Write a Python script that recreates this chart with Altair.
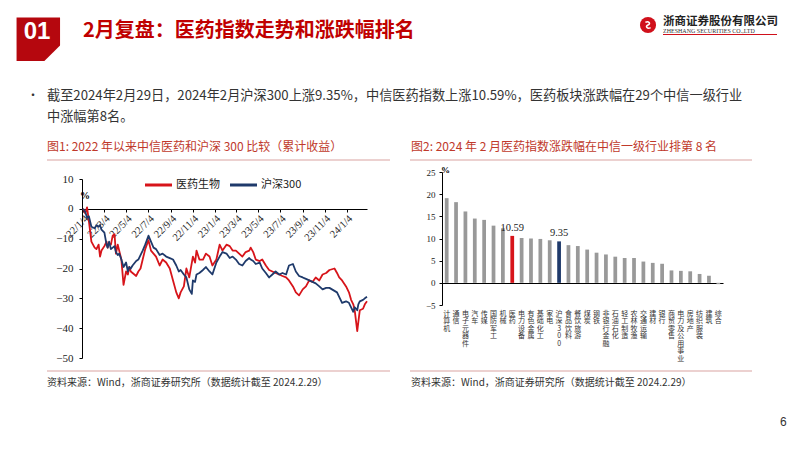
import altair as alt
import pandas as pd

# ---------------- data ----------------
red_dates = ["2022-01-04","2022-01-10","2022-01-15","2022-01-20","2022-01-27","2022-02-05","2022-02-10","2022-02-16",
             "2022-02-20","2022-02-24","2022-03-04","2022-03-10","2022-03-13","2022-03-17","2022-03-22","2022-03-27",
             "2022-04-01","2022-04-05","2022-04-10","2022-04-14","2022-04-20","2022-04-26","2022-05-03","2022-05-08",
             "2022-05-12","2022-05-16","2022-05-21","2022-05-31","2022-06-06","2022-06-12","2022-06-18","2022-06-25",
             "2022-07-04","2022-07-11","2022-07-18","2022-07-25","2022-08-04","2022-08-12","2022-08-22","2022-09-01",
             "2022-09-10","2022-09-19","2022-09-26","2022-10-01","2022-10-10","2022-10-17","2022-10-25","2022-11-04",
             "2022-11-10","2022-11-14","2022-11-22","2022-12-02","2022-12-10","2022-12-20","2022-12-28","2023-01-08",
             "2023-01-17","2023-01-25","2023-02-05","2023-02-14","2023-02-22","2023-03-03","2023-03-12","2023-03-21",
             "2023-03-30","2023-04-09","2023-04-13","2023-04-20","2023-04-27","2023-05-08","2023-05-15","2023-05-25",
             "2023-06-03","2023-06-12","2023-06-21","2023-07-01","2023-07-10","2023-07-20","2023-07-28","2023-08-08",
             "2023-08-16","2023-08-25","2023-09-04","2023-09-13","2023-09-22","2023-10-01","2023-10-10","2023-10-20",
             "2023-10-29","2023-11-08","2023-11-17","2023-12-01","2023-12-08","2023-12-14","2023-12-22","2024-01-02",
             "2024-01-10","2024-01-16","2024-01-22","2024-01-26","2024-02-02","2024-02-05","2024-02-09","2024-02-18",
             "2024-02-23","2024-02-29"]
red_vals = [0, -1.5, 0.5, -4, -11, -13, -13.5, -12,
            -16, -14, -12.5, -11, -13, -11.5, -12, -9,
            -8.5, -15, -12, -14, -17, -25.5, -21, -22,
            -19.5, -21, -21.5, -22.5, -21, -20, -17, -13.5,
            -10.5, -14, -15, -16, -19, -17, -18, -20,
            -24, -28, -30, -28, -26, -20, -23, -16,
            -18, -14, -17, -17, -15, -16, -19, -17,
            -12, -14, -12, -12.5, -14, -14, -15, -16,
            -14.5, -14, -13, -14.5, -17, -17.5, -17, -19,
            -20.5, -21, -21.5, -22, -22.5, -23, -24, -26,
            -28, -29, -27, -26, -24, -24.5, -23, -24,
            -22, -21.5, -20.5, -20, -21.5, -23, -24, -26,
            -28, -30.5, -32, -34, -41, -38, -34, -33.5,
            -32, -31]

blue_dates = ["2022-01-04","2022-01-10","2022-01-15","2022-01-20","2022-01-27","2022-02-05","2022-02-10","2022-02-16",
              "2022-02-20","2022-02-24","2022-03-04","2022-03-10","2022-03-13","2022-03-17","2022-03-22","2022-03-27",
              "2022-04-01","2022-04-05","2022-04-10","2022-04-14","2022-04-20","2022-04-26","2022-05-03","2022-05-08",
              "2022-05-12","2022-05-16","2022-05-21","2022-05-31","2022-06-06","2022-06-12","2022-06-18","2022-06-25",
              "2022-07-04","2022-07-11","2022-07-18","2022-07-25","2022-08-04","2022-08-12","2022-08-22","2022-09-01",
              "2022-09-10","2022-09-19","2022-09-26","2022-10-01","2022-10-10","2022-10-17","2022-10-25","2022-11-01",
              "2022-11-04","2022-11-10","2022-11-14","2022-11-22","2022-12-02","2022-12-10","2022-12-20","2022-12-28",
              "2023-01-08","2023-01-17","2023-01-25","2023-02-05","2023-02-14","2023-02-22","2023-03-03","2023-03-12",
              "2023-03-21","2023-03-30","2023-04-09","2023-04-13","2023-04-20","2023-04-27","2023-05-08","2023-05-15",
              "2023-05-25","2023-06-03","2023-06-12","2023-06-21","2023-07-01","2023-07-10","2023-07-20","2023-07-28",
              "2023-08-08","2023-08-16","2023-08-25","2023-09-04","2023-09-13","2023-09-22","2023-10-01","2023-10-10",
              "2023-10-20","2023-10-29","2023-11-08","2023-11-17","2023-12-01","2023-12-08","2023-12-14","2023-12-22",
              "2024-01-02","2024-01-10","2024-01-16","2024-01-22","2024-01-26","2024-02-02","2024-02-05","2024-02-09",
              "2024-02-18","2024-02-23","2024-02-29"]
blue_vals = [0, -1, -3, -2.5, -6, -6.5, -5.5, -6,
             -5.5, -7, -8, -12, -13, -11, -13.5, -13,
             -12.5, -14.5, -15.5, -15, -17, -19.5, -18, -21,
             -19.5, -20, -19, -17.5, -17, -15.5, -14, -12,
             -9, -11, -13, -13.5, -15.5, -15, -16, -16.5,
             -17, -19, -21, -20.5, -22, -23, -27, -28.5,
             -24, -24.5, -22, -21.5, -20.5, -19.5, -21, -22,
             -18, -16, -14.5, -15, -16.5, -16, -17, -18.5,
             -19, -17.5, -16.5, -17, -17.5, -18.5, -18, -20,
             -21.5, -23, -22, -21, -22, -21.5, -22, -19,
             -18.5, -21, -22.5, -23, -23.5, -24, -24.5, -25,
             -26, -27, -26.5, -26.5, -27.5, -28, -29.5, -31.5,
             -31, -31.5, -33, -34.5, -33, -34, -32, -31,
             -30.5, -30, -29.5]

series_names = ["医药生物", "沪深300"]
tick_months = [(2022, 1), (2022, 3), (2022, 5), (2022, 7), (2022, 9), (2022, 11), (2023, 1),
               (2023, 3), (2023, 5), (2023, 7), (2023, 9), (2023, 11), (2024, 1)]
y1_ticks = [10, 0, -10, -20, -30, -40, -50]

industries = ["计算机", "通信", "电子元器件", "汽车", "传媒", "国防军工", "机械", "医药", "电力设备", "有色金属",
              "基础化工", "家电", "沪深300", "食品饮料", "餐饮旅游", "煤炭", "钢铁", "非银行金融", "石油石化", "轻工制造",
              "农林牧渔", "交通运输", "建材", "银行", "商贸零售", "电力及公用事业", "房地产", "纺织服装", "建筑", "综合"]
changes = [19.1, 18.2, 16.1, 14.5, 14.2, 12.9, 12.3, 10.59, 10.1, 10.0,
           9.9, 9.6, 9.35, 8.5, 8.3, 7.5, 6.8, 6.4, 5.9, 5.6,
           5.6, 4.8, 4.5, 4.3, 2.8, 2.7, 2.6, 2.0, 1.6, -0.3]
y2_ticks = [25, 20, 15, 10, 5, 0, -5]

# ---------------- style ----------------
W, H = 786, 435
CJK = "Noto Sans CJK SC"
SERIF = "Liberation Serif"
RED = "#D7141A"
BLUE = "#1F3A6B"
BOXRED = "#B5070E"
TITLERED = "#C00000"
CAPRED = "#C0392B"
PINK = "#D9A3A1"
GRAY = "#999999"

one = pd.DataFrame({"_": [0]})


def txt(s, x, y, size, color="#000", font=CJK, weight="normal", align="left", baseline="middle"):
    return alt.Chart(one).mark_text(text=s, font=font, fontSize=size, fontWeight=weight, color=color,
                                    align=align, baseline=baseline).encode(x=alt.value(x), y=alt.value(y))


def hline(x1, x2, y, color, w=1.0):
    return alt.Chart(one).mark_rule(color=color, strokeWidth=w).encode(
        x=alt.value(x1), x2=alt.value(x2), y=alt.value(y))


# ---------------- header / decorations ----------------
box = alt.Chart(one).mark_point(shape="M-1,-1L1,-1L1,0.28L0.28,1L-1,1Z", filled=True, fill=BOXRED,
                                opacity=1, size=1892, strokeWidth=0).encode(x=alt.value(30.3), y=alt.value(31.3))
logo_c = alt.Chart(one).mark_point(shape="circle", filled=True, fill="#D0101B", opacity=1, size=260,
                                   strokeWidth=0).encode(x=alt.value(640), y=alt.value(17))
logo_s = alt.Chart(one).mark_point(shape="M-0.55,-0.55C0.1,-0.95 0.7,-0.3 0,0C-0.7,0.3 -0.1,0.95 0.55,0.55",
                                   filled=False, stroke="white", strokeWidth=1.6, opacity=1,
                                   size=90).encode(x=alt.value(640), y=alt.value(17))

deco = [
    box,
    txt("01", 29, 24, 24, "white", "Liberation Sans", "bold", "center"),
    txt("2月复盘：医药指数走势和涨跌幅排名", 75, 23, 20, TITLERED, CJK, "bold"),
    logo_c, logo_s,
    txt("浙商证券股份有限公司", 655, 14, 11.5, "#222", CJK, "bold"),
    txt("ZHESHANG SECURITIES CO.,LTD", 655, 22.5, 6, "#333", SERIF),
    hline(655, 769, 26.5, "#D0101B", 1),
    txt("•", 19, 88, 12, "#333"),
    txt("截至2024年2月29日，2024年2月沪深300上涨9.35%，中信医药指数上涨10.59%，医药板块涨跌幅在29个中信一级行业",
        39, 88, 13.2, "#333"),
    txt("中涨幅第8名。", 39, 109, 13.2, "#333"),
    txt("图1:  2022 年以来中信医药和沪深 300 比较（累计收益）", 39, 139, 12, CAPRED),
    txt("图2:  2024 年 2 月医药指数涨跌幅在中信一级行业排第 8 名", 403, 139, 12, CAPRED),
    hline(39, 382, 152, PINK, 1.2),
    hline(402, 744, 152, PINK, 1.2),
    hline(39, 382, 363, PINK, 1.2),
    hline(402, 744, 363, PINK, 1.2),
    txt("资料来源：Wind，浙商证券研究所（数据统计截至 2024.2.29）", 39, 375, 10, "#333"),
    txt("资料来源：Wind，浙商证券研究所（数据统计截至 2024.2.29）", 403, 375, 10, "#333"),
    txt("6", 772, 414, 12, "#333", "Liberation Sans"),
    # legend of chart 1
    hline(137, 164, 177, RED, 3),
    txt(series_names[0], 168, 177, 11, "#222"),
    hline(222, 249, 177, BLUE, 3),
    txt(series_names[1], 253, 177, 11, "#222"),
    txt("%", 72, 188, 10, "#000", SERIF, "bold"),
    txt("%", 433, 162, 9, "#000", SERIF, "bold"),
]

# ---------------- chart 1: lines ----------------
line_df = pd.concat([
    pd.DataFrame({"date": red_dates, "value": red_vals, "series": series_names[0]}),
    pd.DataFrame({"date": blue_dates, "value": blue_vals, "series": series_names[1]}),
])
tick_vals = [alt.DateTime(year=y, month=m, date=4) for (y, m) in tick_months]

lines = alt.Chart(line_df).mark_line(strokeWidth=1.8, strokeJoin="round").encode(
    x=alt.X("date:T",
            scale=alt.Scale(domain=[alt.DateTime(year=2022, month=1, date=1),
                                    alt.DateTime(year=2024, month=2, date=29)], range=[74, 359]),
            axis=alt.Axis(orient="bottom", offset=-234, values=tick_vals, format="%y/%-m/%-d",
                          labelAngle=-45, labelFont=SERIF, labelFontSize=10.5, labelColor="#222",
                          domainColor="#000", tickColor="#000", tickSize=3, labelPadding=1,
                          labelOverlap=False, labelBound=False, title=None, grid=False)),
    y=alt.Y("value:Q",
            scale=alt.Scale(domain=[-50, 10], range=[350, 171], nice=False, zero=False),
            axis=alt.Axis(orient="left", offset=-74, values=y1_ticks, labelFont=SERIF, labelFontSize=11,
                          labelColor="#222", domainColor="#000", tickColor="#000", tickSize=3,
                          labelPadding=6, title=None, grid=False)),
    color=alt.Color("series:N", scale=alt.Scale(domain=series_names, range=[RED, BLUE]), legend=None),
    order=alt.Order("date:T"),
)

# ---------------- chart 2: bars ----------------
bar_df = pd.DataFrame({"industry": industries, "change": changes})
bar_df["color"] = [RED if n == "医药" else (BLUE if n == "沪深300" else GRAY) for n in industries]

xb = alt.X("industry:N", sort=None,
           scale=alt.Scale(range=[434, 715], paddingInner=0.6, paddingOuter=0.3),
           axis=alt.Axis(orient="bottom", offset=-160, labelAngle=0, labelExpr="split(datum.value, '')",
                         labelFont=CJK, labelFontSize=7, labelLineHeight=7.5, labelColor="#333",
                         labelBaseline="top", labelAlign="center", labelPadding=26, ticks=False,
                         domainColor="#000", labelOverlap=False, labelBound=False, title=None, grid=False))
yb = alt.Y("change:Q",
           scale=alt.Scale(domain=[-5, 25], range=[297, 164], nice=False, zero=False),
           axis=alt.Axis(orient="left", offset=-434, values=y2_ticks, labelFont=SERIF, labelFontSize=9,
                         labelColor="#222", domainColor="#000", tickColor="#000", tickSize=3,
                         labelPadding=4, title=None, grid=False))

bars = alt.Chart(bar_df).mark_bar().encode(x=xb, y=yb, color=alt.Color("color:N", scale=None))
bar_labels = alt.Chart(bar_df).transform_filter(
    "datum.industry == '医药' || datum.industry == '沪深300'"
).mark_text(font=SERIF, fontSize=10.5, color="#222", dy=-8).encode(
    x=xb, y=yb, text=alt.Text("change:Q", format=".2f"))

left = alt.layer(lines)
right = alt.layer(bars, bar_labels)

chart = alt.layer(*deco, left, right).resolve_scale(
    x="independent", y="independent", color="independent"
).properties(
    width=W, height=H, autosize=alt.AutoSizeParams(type="none"), padding=0, background="white"
).configure_view(stroke=None)

chart.save("out.html", embed_options={"renderer": "svg", "actions": False})
